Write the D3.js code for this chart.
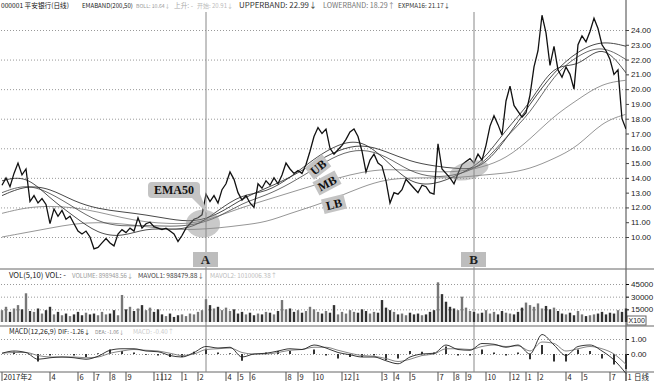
<!DOCTYPE html>
<html>
<head>
<meta charset="utf-8">
<script src="https://cdn.jsdelivr.net/npm/d3@7"></script>
<style>
body { margin: 0; background: #fff; }
svg { display: block; font-family: "Liberation Sans", "DejaVu Sans", sans-serif; }
.serif { font-family: "Liberation Serif", "DejaVu Serif", serif; font-weight: bold; }
</style>
</head>
<body>
<svg id="chart"></svg>
<script>
// ---- data ----
// daily close, one sample every 4 px of the original
const closes = [
  13.5,14.0,13.4,14.3,15.0,14.2,14.6,12.4,12.8,12.3,
  12.6,12.2,10.9,11.9,11.4,11.8,11.2,11.4,10.9,10.4,
  10.2,10.4,10.0,9.2,9.3,9.6,9.9,9.6,9.4,10.2,
  10.5,10.3,10.6,10.4,11.3,10.6,10.9,11.0,10.7,10.6,
  10.5,10.6,10.4,10.2,9.7,10.1,10.6,10.9,11.2,11.3,
  11.5,12.9,12.4,12.8,12.3,13.2,13.6,14.4,13.9,13.0,
  12.5,12.8,12.3,12.0,13.6,13.3,13.8,13.5,14.0,13.6,
  14.2,15.0,14.6,14.3,14.5,14.3,14.9,15.8,16.8,17.4,
  17.0,17.3,16.0,15.6,15.9,16.2,16.6,17.1,17.3,16.8,
  15.8,14.4,15.2,15.6,15.0,14.8,13.8,12.3,13.0,12.9,
  13.2,13.9,13.6,13.3,13.0,13.5,13.4,13.0,12.9,16.3,
  14.6,14.3,14.0,13.6,14.3,14.9,15.1,15.3,15.0,15.6,
  15.2,16.2,17.5,18.2,17.6,16.9,19.2,20.2,18.9,18.5,
  18.1,18.4,19.6,21.5,22.6,25.0,23.8,21.6,22.9,21.3,
  20.8,21.5,21.0,20.0,23.0,23.6,23.2,23.9,24.8,24.1,
  23.0,22.6,22.0,21.0,21.3,18.0,17.3
];

// bands / averages, sampled every 6 bars
const maIdx = [0,6,12,18,24,30,36,42,48,54,60,66,72,78,84,90,96,102,108,114,120,126,132,138,144,150,156];
const upperBand = [12.8,13.5,13.3,12.4,11.9,11.7,11.5,11.2,11.0,11.5,12.6,13.3,14.0,15.0,15.9,16.3,15.8,15.1,14.8,14.6,14.6,16.6,19.0,21.2,22.6,23.3,22.9];
const expma16   = [13.8,14.2,12.6,11.4,10.2,10.0,10.6,10.5,10.6,11.8,12.9,13.0,14.0,15.3,16.3,16.6,15.2,13.6,13.5,14.2,15.0,17.3,19.0,21.8,21.4,23.2,21.1];
const ema50     = [13.0,13.6,13.0,12.0,11.0,10.7,10.8,10.7,10.8,11.3,12.3,12.8,13.6,14.6,15.6,16.0,15.5,14.4,14.0,14.2,14.8,16.8,18.3,21.0,22.3,23.0,22.0];
const midBand   = [11.6,12.0,12.1,12.0,11.7,11.3,11.0,10.9,10.9,11.4,12.0,12.5,13.0,13.5,14.0,14.4,14.6,14.5,14.4,14.4,14.7,15.3,16.6,18.2,19.3,20.4,20.6];
const lowerBand = [10.0,10.3,10.6,10.9,11.0,10.9,10.7,10.5,10.5,10.6,10.8,11.0,11.6,12.1,12.7,13.4,13.9,14.0,14.0,14.0,14.2,14.3,14.6,15.3,16.1,17.8,18.3];

// volume in thousands (x100 shares), same grid as closes
const volumeK = [
  14,18,12,16,20,15,34,13, 12,16,10,14,18,9,12,8,
  10,7,9,12,8,11,9,10, 8,12,9,10,14,8,32,15,
  18,13,16,20,14,17,12,15, 9,7,10,6,8,9,7,10,
  9,12,14,27,20,16,18,14, 17,13,15,10,12,9,11,8,
  10,9,12,11,9,13,26,15, 16,12,14,11,13,18,15,12,
  10,13,11,20,9,12,10,14, 12,11,15,13,10,12,11,26,
  17,14,12,9,10,8,11,9, 10,8,9,12,14,47,33,24,
  18,16,14,30,17,13,12,10, 11,14,10,12,9,13,11,10,
  9,12,17,23,20,18,22,16, 19,15,17,13,10,9,11,8,
  13,9,7,8,9,10,12,9, 11,10,14,12,16
];

// MACD, sampled every 3 bars
const macdIdx = d3.range(0, 157, 3);
const dif = [0.05,0.2,0.1,-0.35,-0.25,-0.2,-0.25,-0.35,-0.15,0.25,0.35,0.35,0.2,0.15,-0.1,-0.2,0.1,0.5,0.4,0.45,-0.2,0.0,0.05,0.2,0.35,0.3,0.6,0.4,0.1,-0.05,-0.2,-0.2,-0.45,-0.65,-0.2,0.0,0.05,0.6,0.3,0.25,0.7,0.65,0.45,0.6,0.0,1.3,0.6,-0.1,0.5,0.6,0.2,-0.4,-1.3];
const dea = [0.05,0.1,0.1,-0.1,-0.2,-0.2,-0.2,-0.25,-0.2,0.05,0.2,0.3,0.25,0.2,0.05,-0.1,0.0,0.3,0.35,0.4,0.1,0.0,0.0,0.1,0.25,0.3,0.45,0.45,0.25,0.05,-0.1,-0.15,-0.3,-0.5,-0.35,-0.1,0.0,0.35,0.35,0.3,0.5,0.6,0.5,0.55,0.2,0.8,0.7,0.2,0.35,0.5,0.35,0.0,-0.7];
const macdBar = [0,0.15,0,-0.5,-0.1,0,-0.1,-0.2,0.05,0.3,0.2,0.1,-0.05,-0.1,-0.2,-0.2,0.15,0.35,0.1,0.05,-0.45,0,0.1,0.2,0.2,0,0.3,-0.1,-0.3,-0.2,-0.2,-0.1,-0.4,-0.3,0.2,0.15,0.1,0.5,-0.1,-0.1,0.3,0.1,-0.1,0.1,-0.35,0.6,-0.5,-0.5,0.3,0.2,-0.3,-0.7,-1.0];

const priceTicks = [24,23,22,21,20,19,18,17,16,15,14,13,12,11,10];
const priceGrid = [24,22,20,18,16,14,12,10];
const volTicks = [45,30,15];
const macdTicks = [1,0];
const dateLabels = ["2017年2","4","6","7","8","9","11","12","1","2","4","5","6","8","9","10","12","1","3","4","5","7","8","9","10","12","1","2","4","5","7","1"];
const dateIdx    = [0,12,19,23,27,31,38,40,45,49,56,59,62,71,74,78,85,88,95,98,102,109,113,116,121,127,131,134,141,145,152,156];
const markA = 51, markB = 118;   // bar index of the two vertical markers

// indicator read-outs: [text, colour, left, width]
const headTexts = [
  ["000001 平安银行(日线)", "#111", 1, 68],
  ["EMABAND(200,50)", "#222", 82, 51],
  ["BOLL: 10.64↓", "#999", 136, 34],
  ["上升: -", "#aaa", 174, 19],
  ["开始: 20.91↓", "#bbb", 197, 36],
  ["UPPERBAND: 22.99↓", "#333", 239, 78],
  ["LOWERBAND: 18.29↑", "#777", 323, 72],
  ["EXPMA16: 21.17↓", "#333", 398, 52]
];
const volTexts = [
  ["VOL(5,10) VOL: -", "#222", 9, 57],
  ["VOLUME: 898948.56↓", "#999", 72, 61],
  ["MAVOL1: 988479.88↓", "#444", 138, 66],
  ["MAVOL2: 1010006.38↑", "#bbb", 210, 67]
];
const macdTexts = [
  ["MACD(12,26,9)", "#222", 9, 47],
  ["DIF: -1.26↓", "#222", 58, 32],
  ["DEA: -1.06↓", "#888", 95, 29],
  ["MACD: -0.40↑", "#ccc", 133, 41]
];

// ---- layout ----
const width = 654, height = 381;
const plotR = 626;
const svg = d3.select("#chart").attr("width", width).attr("height", height);

const x = d3.scaleLinear().domain([0, 156]).range([2, plotR]);
const yP = d3.scaleLinear().domain([10, 24]).range([237, 30]);
const yV = d3.scaleLinear().domain([0, 45]).range([322, 284]);
const yM = d3.scaleLinear().domain([0, 1]).range([354, 339]);

const dotted = "1,2";

// price grid
svg.append("g")
  .attr("transform", `translate(${plotR},0)`)
  .call(d3.axisLeft(yP).tickValues(priceGrid).tickSize(plotR).tickFormat(""))
  .call(g => g.select(".domain").remove())
  .selectAll("line").attr("stroke", "#999").attr("stroke-dasharray", dotted);

// price axis on the right
svg.append("g")
  .attr("transform", `translate(${plotR},0)`)
  .call(d3.axisRight(yP).tickValues(priceTicks).tickSize(3).tickFormat(d3.format(".2f")))
  .call(g => g.select(".domain").remove())
  .call(g => g.selectAll("text").attr("font-size", 8).attr("fill", "#222").attr("x", 5))
  .call(g => g.selectAll("line").attr("stroke", "#444"));

// panel frames
svg.append("line").attr("x1", plotR).attr("x2", plotR).attr("y1", 0).attr("y2", height).attr("stroke", "#444");
[269, 326, 372].forEach(yy => {
  svg.append("line").attr("x1", 0).attr("x2", width).attr("y1", yy).attr("y2", yy).attr("stroke", "#666");
});

// moving averages and bands
const maLine = d3.line().x((d, i) => x(maIdx[i])).y(d => yP(d)).curve(d3.curveBasis);
const bands = [
  {v: lowerBand, c: "#8a8a8a", w: 0.9},
  {v: midBand, c: "#8a8a8a", w: 0.9},
  {v: ema50, c: "#444", w: 0.8},
  {v: upperBand, c: "#333", w: 0.9},
  {v: expma16, c: "#222", w: 0.8}
];
svg.append("clipPath").attr("id", "pclip").append("rect")
  .attr("x", 0).attr("y", 10).attr("width", plotR).attr("height", 258);
const pg = svg.append("g").attr("clip-path", "url(#pclip)");
bands.forEach(b => {
  pg.append("path").datum(b.v).attr("d", maLine)
    .attr("fill", "none").attr("stroke", b.c).attr("stroke-width", b.w);
});

// price
pg.append("path").datum(closes)
  .attr("d", d3.line().x((d, i) => x(i)).y(d => yP(d)))
  .attr("fill", "none").attr("stroke", "#111").attr("stroke-width", 1.3);

// highlight blobs near A and B
pg.append("ellipse").attr("cx", x(markA) - 3).attr("cy", yP(10.9)).attr("rx", 17).attr("ry", 14)
  .attr("fill", "#888").attr("opacity", 0.45);
pg.append("ellipse").attr("cx", x(markB) - 5).attr("cy", yP(14.5)).attr("rx", 20).attr("ry", 9)
  .attr("transform", `rotate(-15, ${x(markB) - 5}, ${yP(14.5)})`)
  .attr("fill", "#888").attr("opacity", 0.45);

// vertical marker lines
[markA, markB].forEach(m => {
  svg.append("line").attr("x1", x(m)).attr("x2", x(m)).attr("y1", 12).attr("y2", 372)
    .attr("stroke", "#888").attr("stroke-width", 1);
});

// A / B boxes
[[markA, "A"], [markB, "B"]].forEach(([m, t]) => {
  svg.append("rect").attr("x", x(m) - 13).attr("y", 252).attr("width", 25).attr("height", 15).attr("fill", "#bdbdbd");
  svg.append("text").attr("class", "serif").attr("x", x(m) - 0.5).attr("y", 264)
    .attr("text-anchor", "middle").attr("font-size", 13).attr("fill", "#222").text(t);
});

// EMA50 callout
svg.append("path")
  .attr("d", "M152,182 H196 Q200,182 200,186 V194 L208,214 L192,198 H152 Q148,198 148,194 V186 Q148,182 152,182 Z")
  .attr("fill", "#c4c4c4");
svg.append("text").attr("class", "serif").attr("x", 174).attr("y", 194)
  .attr("text-anchor", "middle").attr("font-size", 12).attr("fill", "#111").text("EMA50");

// band tags
[["UB", 318, 167, -38, 22], ["MB", 327, 183, -28, 25], ["LB", 334, 204, -14, 23]].forEach(([t, cx, cy, a, w]) => {
  const g = svg.append("g").attr("transform", `translate(${cx},${cy}) rotate(${a})`);
  g.append("rect").attr("x", -w / 2).attr("y", -7.5).attr("width", w).attr("height", 15).attr("fill", "#c4c4c4");
  g.append("text").attr("class", "serif").attr("y", 4.5).attr("text-anchor", "middle")
    .attr("font-size", 12).attr("fill", "#111").text(t);
});

// ---- volume ----
svg.append("g")
  .attr("transform", `translate(${plotR},0)`)
  .call(d3.axisLeft(yV).tickValues(volTicks).tickSize(plotR).tickFormat(""))
  .call(g => g.select(".domain").remove())
  .selectAll("line").attr("stroke", "#999").attr("stroke-dasharray", dotted);
svg.append("g")
  .attr("transform", `translate(${plotR},0)`)
  .call(d3.axisRight(yV).tickValues(volTicks).tickSize(3).tickFormat(d => d * 1000))
  .call(g => g.select(".domain").remove())
  .call(g => g.selectAll("text").attr("font-size", 8).attr("fill", "#222").attr("x", 5));
svg.append("rect").attr("x", plotR + 1).attr("y", 316).attr("width", 19).attr("height", 9)
  .attr("fill", "#fff").attr("stroke", "#666");
svg.append("text").attr("x", plotR + 2.5).attr("y", 323).attr("font-size", 7).attr("fill", "#222").text("X100");

svg.append("g").selectAll("rect").data(volumeK).join("rect")
  .attr("x", (d, i) => x(i) - 1.2)
  .attr("y", d => yV(d))
  .attr("width", 2.4)
  .attr("height", d => yV(0) - yV(d))
  .attr("fill", (d, i) => i > 0 && closes[i] < closes[i - 1] ? "#333" : "#777");

// ---- MACD ----
svg.append("g")
  .attr("transform", `translate(${plotR},0)`)
  .call(d3.axisLeft(yM).tickValues(macdTicks).tickSize(plotR).tickFormat(""))
  .call(g => g.select(".domain").remove())
  .selectAll("line").attr("stroke", "#999").attr("stroke-dasharray", dotted);
svg.append("g")
  .attr("transform", `translate(${plotR},0)`)
  .call(d3.axisRight(yM).tickValues(macdTicks).tickSize(3).tickFormat(d3.format(".2f")))
  .call(g => g.select(".domain").remove())
  .call(g => g.selectAll("text").attr("font-size", 8).attr("fill", "#222").attr("x", 5));

const mg = svg.append("g");
mg.selectAll("rect").data(macdBar).join("rect")
  .attr("x", (d, i) => x(macdIdx[i]) - 1)
  .attr("y", d => Math.min(yM(d), yM(0)))
  .attr("width", 2)
  .attr("height", d => Math.abs(yM(d) - yM(0)))
  .attr("fill", "#333");
const mLine = d3.line().x((d, i) => x(macdIdx[i])).y(d => yM(d)).curve(d3.curveMonotoneX);
mg.append("path").datum(dea).attr("d", mLine).attr("fill", "none").attr("stroke", "#777").attr("stroke-width", 0.9);
mg.append("path").datum(dif).attr("d", mLine).attr("fill", "none").attr("stroke", "#222").attr("stroke-width", 0.9);

// ---- date axis ----
const cjk = "'Noto Sans CJK SC', 'Liberation Sans', sans-serif";
const dg = svg.append("g");
dateLabels.forEach((t, i) => {
  const xx = x(dateIdx[i]);
  dg.append("line").attr("x1", xx).attr("x2", xx).attr("y1", 372).attr("y2", 381).attr("stroke", "#555");
  dg.append("text").attr("x", xx + 1.5).attr("y", 380).attr("font-size", 7.5).attr("fill", "#222")
    .attr("font-family", cjk).text(t);
});
dg.append("text").attr("x", 634).attr("y", 380).attr("font-size", 7.5).attr("fill", "#222")
  .attr("font-family", cjk).text("日线");

// ---- indicator read-outs ----
// font size is fitted so each read-out spans the width it has in the original
function readout(rows, yy) {
  rows.forEach(([t, c, xx, w]) => {
    const txt = svg.append("text").attr("x", xx).attr("y", yy).attr("font-size", 7).attr("fill", c)
      .attr("font-family", cjk).text(t);
    const natural = txt.node().getComputedTextLength();
    txt.attr("font-size", Math.min(8, 7 * w / natural).toFixed(2));
  });
}
readout(headTexts, 8);
readout(volTexts, 278);
readout(macdTexts, 334);
</script>
</body>
</html>
